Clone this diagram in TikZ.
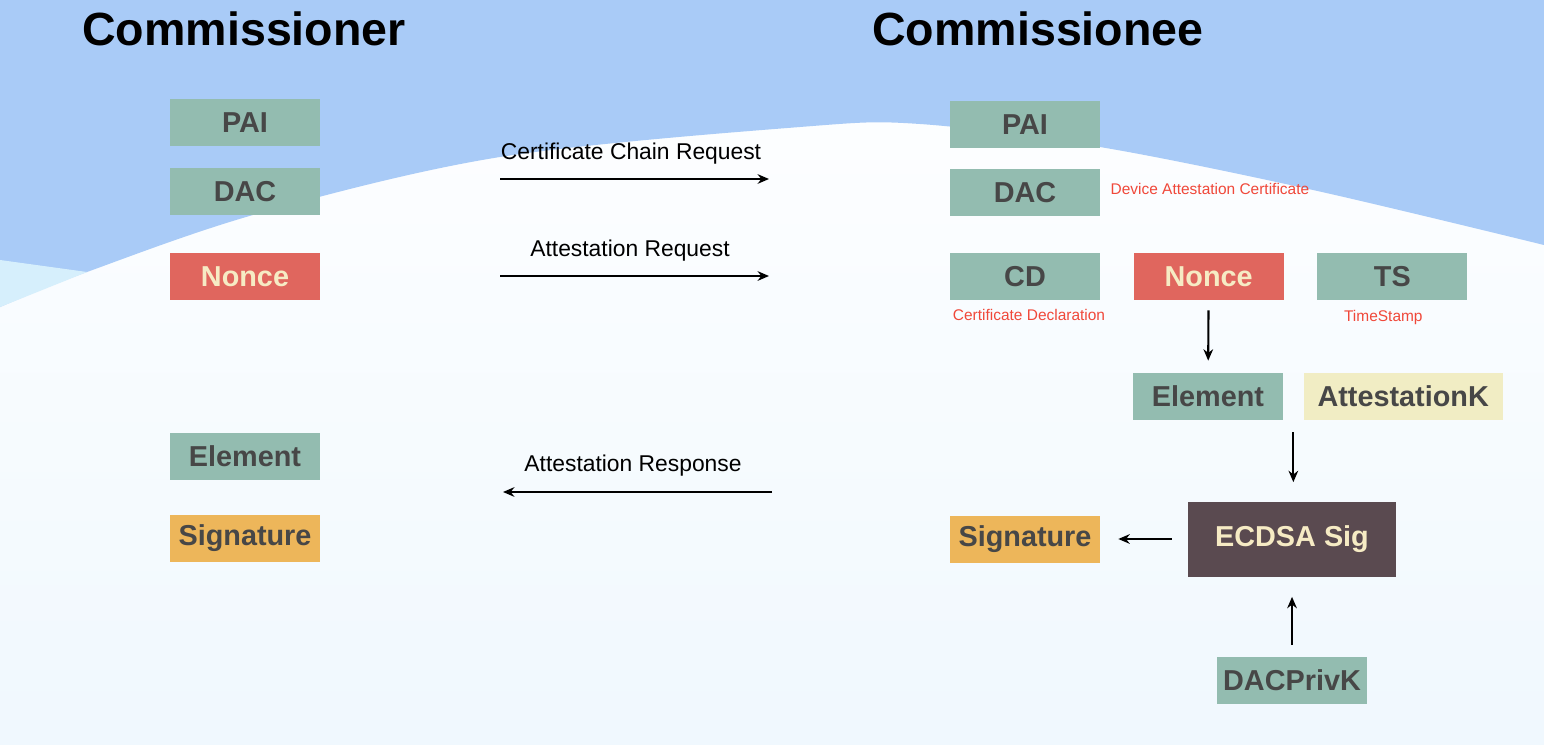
\documentclass[tikz,border=0pt]{standalone}
\usepackage{fontspec}
\setmainfont{Liberation Sans}
\usepackage{xcolor}
\usetikzlibrary{positioning,calc,arrows.meta}
\definecolor{skyblue}{HTML}{A9CBF7}
\definecolor{paleblue}{HTML}{D6EFFC}
\definecolor{mist}{HTML}{F0F8FE}
\definecolor{certgreen}{HTML}{93BCB0}
\definecolor{noncered}{HTML}{E0665E}
\definecolor{sigorange}{HTML}{EDB65A}
\definecolor{keyyellow}{HTML}{F1EDC4}
\definecolor{ecdsabrown}{HTML}{5A4A50}
\definecolor{creamtext}{HTML}{F6EBC4}
\definecolor{boxtext}{HTML}{474747}
\definecolor{notered}{HTML}{F0483A}

\begin{document}
\begin{tikzpicture}[x=0.02cm, y=-0.02cm,
  box/.style={minimum width=3cm, minimum height=0.94cm, inner sep=0pt,
              font=\fontsize{16.4}{19}\selectfont\bfseries, text=boxtext, fill=certgreen},
  hot/.style={box, fill=noncered, text=creamtext},
  sig/.style={box, fill=sigorange},
  note/.style={font=\fontsize{8.8}{10}\selectfont, text=notered, inner sep=0pt},
  msg/.style={font=\fontsize{13}{15}\selectfont, inner sep=0pt},
  head/.style={font=\fontsize{26.5}{30}\selectfont\bfseries, inner sep=0pt, anchor=base west},
  arr/.style={-{Stealth[length=6.5pt,width=5.5pt]}, line width=1.2pt}
]
  \useasboundingbox (0,0) rectangle (1544,744);

  % Background
  \fill[top color=white, bottom color=mist] (0,0) rectangle (1544,744);
  \fill[skyblue] (0,0) -- plot[smooth, tension=0.55] coordinates
    {(0,307) (87,272) (260,213) (500,157) (800,127) (920,124) (1100,147) (1313,190) (1544,245)}
    -- (1544,0) -- cycle;
  \fill[paleblue] (0,260) -- (87,272) -- (0,307) -- cycle;

  % Commissioner side
  \node[head] (lhead) at (82,45) {Commissioner};
  \node[box] (lpai) at (245,122.5) {PAI};
  \node[box, below=0.42cm of lpai] (ldac) {DAC};
  \node[hot] (lnonce) at (245,276.5) {Nonce};
  \node[box] (lelem) at (245,456.5) {Element};
  \node[sig, below=0.68cm of lelem] (lsig) {Signature};

  % Commissionee side
  \node[head] (rhead) at (872,45) {Commissionee};
  \node[box] (rpai) at (1025,124.5) {PAI};
  \node[box, below=0.4cm of rpai] (rdac) {DAC};
  \node[note, right=0.2cm of rdac, yshift=0.06cm] (dacnote) {Device Attestation Certificate};
  \node[box] (cd) at (1025,276.5) {CD};
  \node[hot, right=0.66cm of cd] (rnonce) {Nonce};
  \node[box, right=0.66cm of rnonce] (ts) {TS};
  \node[note, below=0.18cm of cd, xshift=0.08cm] (cdnote) {Certificate Declaration};
  \node[note, below=0.2cm of ts, xshift=-0.18cm] (tsnote) {TimeStamp};
  \node[box] (relem) at (1208,396.5) {Element};
  \node[box, fill=keyyellow, minimum width=3.98cm, right=0.4cm of relem] (attk) {AttestationK};
  \node[box, fill=ecdsabrown, text=creamtext, minimum width=4.16cm, minimum height=1.5cm]
    (ecdsa) at (1292,539) {ECDSA Sig};
  \node[sig] (rsig) at (1025,539) {Signature};
  \node[box] (privk) at (1292,680) {DACPrivK};

  % Messages
  \node[msg] (ccr) at (631,154) {Certificate Chain Request};
  \node[msg] (areq) at (630,251) {Attestation Request};
  \node[msg] (ares) at (633,466) {Attestation Response};
  \coordinate (ccrA) at (500,179);
  \coordinate (ccrB) at (769,179);
  \coordinate (areqA) at (500,276);
  \coordinate (areqB) at (769,276);
  \coordinate (aresA) at (772,492);
  \coordinate (aresB) at (503,492);
  \draw[arr] (ccrA) -- (ccrB);
  \draw[arr] (areqA) -- (areqB);
  \draw[arr] (aresA) -- (aresB);

  % Signing
  \coordinate (kin) at ($(relem.south east)!0.5!(attk.south west)$);
  \draw[arr, shorten <=0.2cm, shorten >=0.24cm] (rnonce) -- (relem);
  \draw[arr, shorten <=0.24cm, shorten >=0.38cm] (kin) -- (kin |- ecdsa.north);
  \draw[arr, shorten <=0.32cm, shorten >=0.36cm] (ecdsa.west) -- (rsig.east);
  \draw[arr, shorten <=0.22cm, shorten >=0.4cm] (privk) -- (ecdsa);
\end{tikzpicture}
\end{document}
